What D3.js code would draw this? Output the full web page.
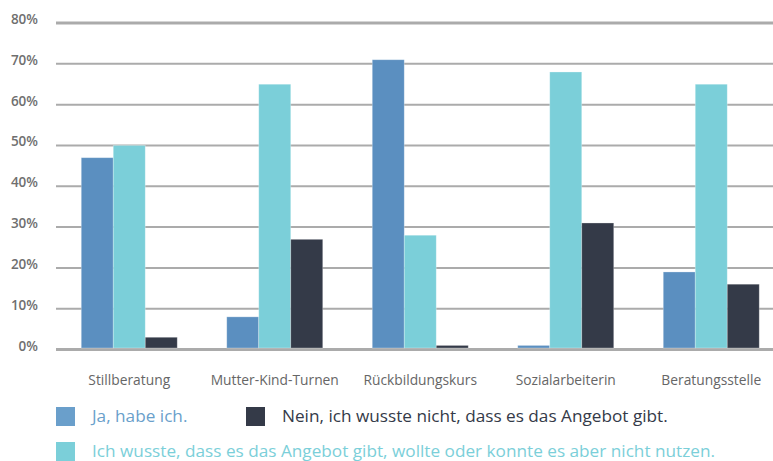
<!DOCTYPE html>
<html>
<head>
<meta charset="utf-8">
<script src="https://cdn.jsdelivr.net/npm/d3@7"></script>
<style>
  body { margin: 0; background: #fff; }
  svg { display: block; }
</style>
</head>
<body>
<div id="chart"></div>
<script>
// categories and series (values in %)
var categories = ["Stillberatung", "Mutter-Kind-Turnen", "Rückbildungskurs", "Sozialarbeiterin", "Beratungsstelle"];
var seriesNames = ["Ja, habe ich.",
                   "Ich wusste, dass es das Angebot gibt, wollte oder konnte es aber nicht nutzen.",
                   "Nein, ich wusste nicht, dass es das Angebot gibt."];
var jaValues    = [47, 8, 71, 1, 19];
var wussteValues = [50, 65, 28, 68, 65];
var neinValues  = [3, 27, 1, 31, 16];
var yTicks = [0, 10, 20, 30, 40, 50, 60, 70, 80];
var colors = ["#5b8fc0", "#7bcfd9", "#343a48"];

var width = 773, height = 461;

var svg = d3.select("#chart")
    .append("svg")
    .attr("width", width)
    .attr("height", height);

var y = d3.scaleLinear().domain([0, 80]).range([349.5, 23]);

var x = d3.scaleBand()
    .domain(categories)
    .range([56.5, 784])
    .padding(0);

var inner = d3.scaleBand()
    .domain([0, 1, 2])
    .range([0, 96])
    .padding(0);

var seriesValues = [jaValues, wussteValues, neinValues];

// gridlines
svg.append("g").selectAll("line")
    .data(yTicks)
    .enter().append("line")
    .attr("x1", 56)
    .attr("x2", width)
    .attr("y1", function(d) { return y(d); })
    .attr("y2", function(d) { return y(d); })
    .style("stroke", "#ababab")
    .style("stroke-width", function(d) { return (d == 0 || d == 80) ? 3 : 2; });

// y labels
svg.append("g").selectAll("text")
    .data(yTicks)
    .enter().append("text")
    .attr("x", 38)
    .attr("y", function(d) { return y(d) + 1; })
    .attr("text-anchor", "end")
    .style("font-family", "'Open Sans', sans-serif")
    .style("font-weight", "600")
    .style("font-size", "13.5px")
    .style("fill", "#6f6f6f")
    .text(function(d) { return d + "%"; });

// bars
var groups = svg.append("g").selectAll("g")
    .data(categories)
    .enter().append("g")
    .attr("transform", function(d) { return "translate(" + (x(d) + (x.bandwidth() - 96) / 2) + ",0)"; });

groups.selectAll("rect")
    .data(function(d, i) { return seriesValues.map(function(s, k) { return {k: k, v: s[i]}; }); })
    .enter().append("rect")
    .attr("x", function(d) { return inner(d.k); })
    .attr("width", inner.bandwidth())
    .attr("y", function(d) { return y(d.v); })
    .attr("height", function(d) { return y(0) - 1.5 - y(d.v); })
    .style("fill", function(d) { return colors[d.k]; })
    .style("stroke", "rgba(255,255,255,0.35)")
    .style("stroke-width", 0.8);

// category labels
svg.append("g").selectAll("text")
    .data(categories)
    .enter().append("text")
    .attr("x", function(d) { return x(d) + x.bandwidth() / 2; })
    .attr("y", 385)
    .attr("text-anchor", "middle")
    .style("font-family", "'Open Sans', sans-serif")
    .style("font-size", "13.8px")
    .style("fill", "#666")
    .text(function(d) { return d; });

// legend
var legendItems = [
    {k: 0, x: 56, y: 407, tx: 92, ty: 422, color: "#6a9fcb"},
    {k: 2, x: 246, y: 407, tx: 282, ty: 422, color: "#343a48"},
    {k: 1, x: 56, y: 442, tx: 92, ty: 457, color: "#7bcfd9"}
];

var legend = svg.append("g").selectAll("g")
    .data(legendItems)
    .enter().append("g");

legend.append("rect")
    .attr("x", function(d) { return d.x; })
    .attr("y", function(d) { return d.y; })
    .attr("width", 19)
    .attr("height", 19)
    .style("fill", function(d) { return d.color; });

legend.append("text")
    .attr("x", function(d) { return d.tx; })
    .attr("y", function(d) { return d.ty; })
    .style("font-family", "'Open Sans', sans-serif")
    .style("font-size", "17.2px")
    .style("fill", function(d) { return d.color; })
    .text(function(d) { return seriesNames[d.k]; });
</script>
</body>
</html>
